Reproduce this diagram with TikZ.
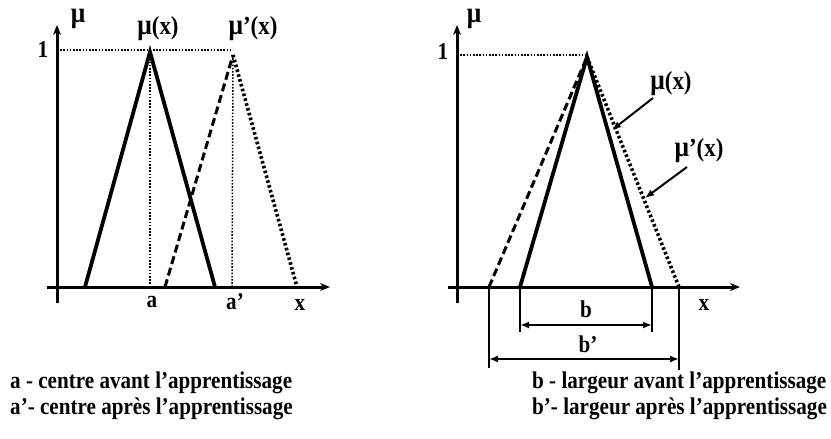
\documentclass[tikz,border=0pt]{standalone}
\usepackage{fontspec}
\setmainfont[FakeStretch=0.88]{Liberation Serif}
\usetikzlibrary{arrows.meta}

\newcommand{\mug}{{\fontsize{29}{29}\selectfont μ}}

\tikzset{
  axis/.style={line width=3pt, -{Stealth[length=10pt, width=8pt]}},
  mfsolid/.style={line width=3.8pt},
  mfdash/.style={line width=3pt, dash pattern=on 8pt off 4pt},
  mfdot/.style={line width=3.6pt, dash pattern=on 2.6pt off 2.4pt},
  guide/.style={line width=1.5pt, dash pattern=on 1.6pt off 1.6pt},
  dimline/.style={line width=2pt, {Latex[length=9pt, width=7pt]}-{Latex[length=9pt, width=7pt]}},
  lbl/.style={font=\fontsize{24}{26}\selectfont\bfseries, inner sep=0pt},
  curvelbl/.style={font=\fontsize{26}{28}\selectfont\bfseries, inner sep=0pt},
}

\begin{document}
\begin{tikzpicture}[x=1pt, y=-1pt]
\useasboundingbox (0,0) rectangle (831,439);

% left plot - centre shift
\coordinate (ly0) at (57,303);
\coordinate (ly1) at (57,25);
\coordinate (lx0) at (47,287);
\coordinate (lx1) at (330,287);
\coordinate (aL) at (85,287);
\coordinate (aTop) at (150,52);
\coordinate (aR) at (215,287);
\coordinate (aFoot) at (150,287);
\coordinate (pL) at (165,287);
\coordinate (pTop) at (233,55);
\coordinate (pR) at (297,287);
\coordinate (pFoot) at (232,287);
\coordinate (lone) at (57,50);
\coordinate (lend) at (233,50);

\draw[axis] (ly0) -- (ly1);
\draw[axis] (lx0) -- (lx1);
\draw[guide] (lone) -- (lend);
\draw[guide] (aTop) -- (aFoot);
\draw[guide] (pTop) -- (pFoot);
\draw[mfsolid] (aL) -- (aTop) -- (aR);
\draw[mfdash] (pL) -- (pTop);
\draw[mfdot] (pTop) -- (pR);

\node[curvelbl, anchor=base] (lmu) at (78,22) {\mug};
\node[lbl] (lone1) at (43,50) {1};
\node[curvelbl] (lmux) at (158,29) {\mug(x)};
\node[curvelbl] (lmupx) at (253,29) {\mug’(x)};
\node[lbl] (la) at (152,302) {a};
\node[lbl] (lap) at (235,302) {a’};
\node[lbl] (lx) at (300,305) {x};

% right plot - width change
\coordinate (ry0) at (457,303);
\coordinate (ry1) at (457,25);
\coordinate (rx0) at (448,287);
\coordinate (rx1) at (740,287);
\coordinate (top) at (587,57);
\coordinate (bL) at (520,287);
\coordinate (bR) at (652,287);
\coordinate (qL) at (489,287);
\coordinate (qR) at (679,287);
\coordinate (rone) at (457,55);
\coordinate (rend) at (587,55);

\draw[axis] (ry0) -- (ry1);
\draw[axis] (rx0) -- (rx1);
\draw[guide] (rone) -- (rend);
\draw[mfdash] (qL) -- (top);
\draw[mfdot] (top) -- (qR);
\draw[mfsolid] (bL) -- (top) -- (bR);

\coordinate (bLd) at (520,332);
\coordinate (bRd) at (652,332);
\coordinate (qLd) at (489,368);
\coordinate (qRd) at (679,370);
\draw[line width=2pt] (bL) -- (bLd) (bR) -- (bRd) (qL) -- (qLd) (qR) -- (qRd);
\coordinate (bA) at (520,325);
\coordinate (bB) at (652,325);
\coordinate (qA) at (489,359);
\coordinate (qB) at (679,359);
\draw[dimline] (bA) -- (bB);
\draw[dimline] (qA) -- (qB);

\node[curvelbl, anchor=base] (rmu) at (474,22) {\mug};
\node[lbl] (rone1) at (443,52) {1};
\node[lbl] (rx) at (704,305) {x};
\node[lbl] (rb) at (586,309) {b};
\node[lbl] (rbp) at (588,344) {b’};
\node[curvelbl] (rmux) at (671,84) {\mug(x)};
\node[curvelbl] (rmupx) at (699,151) {\mug’(x)};
\coordinate (tipA) at (612,130);
\coordinate (tipB) at (645,198);
\draw[line width=2pt, -{Latex[length=9pt, width=7pt]}] (653,98) -- (tipA);
\draw[line width=2pt, -{Latex[length=9pt, width=7pt]}] (687,167) -- (tipB);

% captions
\node[lbl, anchor=west] (capa) at (10,383) {a - centre avant l’apprentissage};
\node[lbl, anchor=west] (capap) at (10,409) {a’- centre après l’apprentissage};
\node[lbl, anchor=west] (capb) at (532,383) {b - largeur avant l’apprentissage};
\node[lbl, anchor=west] (capbp) at (532,409) {b’- largeur après l’apprentissage};
\end{tikzpicture}
\end{document}
